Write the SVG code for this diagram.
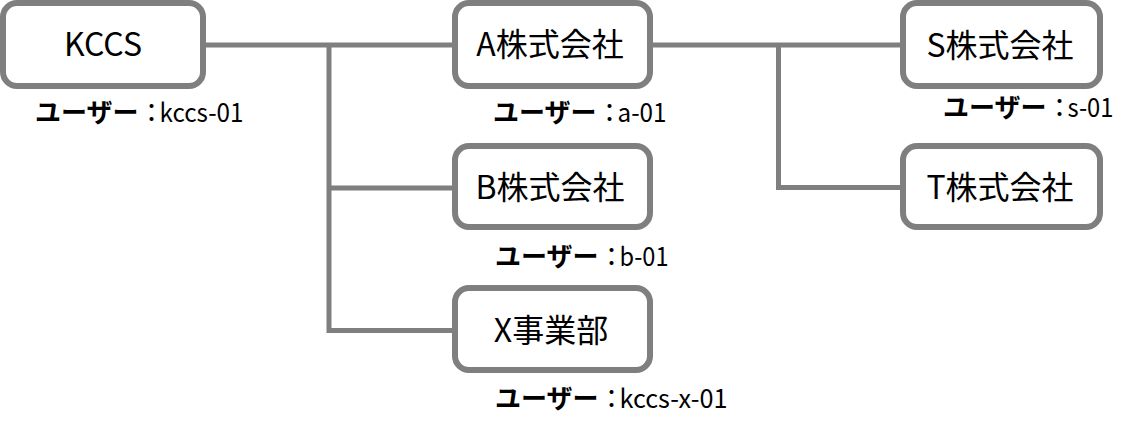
<svg xmlns="http://www.w3.org/2000/svg" width="1139" height="434" viewBox="0 0 1139 434">
<style>
.box{fill:#ffffff;stroke:#7f7f7f;stroke-width:6}
.conn{fill:none;stroke:#7f7f7f;stroke-width:5;stroke-linejoin:miter;stroke-linecap:butt}
.t{font-family:"Noto Sans CJK JP","Noto Sans",sans-serif;font-size:32px;fill:#000;text-anchor:middle}
.lbl{font-family:"Noto Sans CJK JP","Noto Sans",sans-serif;font-size:26px;fill:#000}
.kana{font-weight:bold}
.col{letter-spacing:-5px}
</style>
<rect width="1139" height="434" fill="#ffffff"/>
<g id="connectors">
<path class="conn" d="M203,45 H455"/>
<path class="conn" d="M329,45 V330.5 H455"/>
<path class="conn" d="M329,188 H455"/>
<path class="conn" d="M650,45 H903"/>
<path class="conn" d="M778.5,45 V187.5 H903"/>
</g>
<g id="kccs">
<rect class="box" x="3" y="3" width="200" height="83" rx="14"/>
<text class="t" x="103" y="56">KCCS</text>
<text class="lbl" x="35" y="122"><tspan class="kana">ユーザー</tspan><tspan class="col">：</tspan><tspan textLength="84" lengthAdjust="spacingAndGlyphs">kccs-01</tspan></text>
</g>
<g id="a-company">
<rect class="box" x="455" y="3" width="195" height="83" rx="14"/>
<text class="t" x="550" y="56">A株式会社</text>
<text class="lbl" x="493" y="122"><tspan class="kana">ユーザー</tspan><tspan class="col">：</tspan><tspan textLength="49" lengthAdjust="spacingAndGlyphs">a-01</tspan></text>
</g>
<g id="b-company">
<rect class="box" x="455" y="146" width="195" height="81" rx="14"/>
<text class="t" x="550" y="199">B株式会社</text>
<text class="lbl" x="495" y="266"><tspan class="kana">ユーザー</tspan><tspan class="col">：</tspan><tspan textLength="49" lengthAdjust="spacingAndGlyphs">b-01</tspan></text>
</g>
<g id="x-division">
<rect class="box" x="455" y="288" width="195" height="82" rx="14"/>
<text class="t" x="551" y="342">X事業部</text>
<text class="lbl" x="495" y="408"><tspan class="kana">ユーザー</tspan><tspan class="col">：</tspan><tspan textLength="108" lengthAdjust="spacingAndGlyphs">kccs-x-01</tspan></text>
</g>
<g id="s-company">
<rect class="box" x="903" y="3" width="197" height="83" rx="14"/>
<text class="t" x="1000" y="57">S株式会社</text>
<text class="lbl" x="943" y="117"><tspan class="kana">ユーザー</tspan><tspan class="col">：</tspan><tspan textLength="46" lengthAdjust="spacingAndGlyphs">s-01</tspan></text>
</g>
<g id="t-company">
<rect class="box" x="903" y="146" width="197" height="81" rx="14"/>
<text class="t" x="1000" y="199">T株式会社</text>
</g>
</svg>
